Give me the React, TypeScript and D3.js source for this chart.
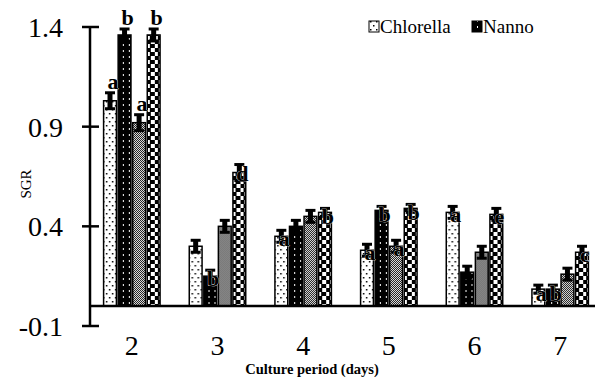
import React from "react";
import * as d3 from "d3";

const days = ["2", "3", "4", "5", "6", "7"];
const seriesNames = ["Chlorella", "Nanno", "Chlorella2", "Nanno2"];
const chlorellaA = [1.03, 0.3, 0.35, 0.28, 0.47, 0.085];
const nannoA = [1.36, 0.15, 0.4, 0.48, 0.17, 0.085];
const chlorellaB = [0.92, 0.4, 0.45, 0.3, 0.27, 0.16];
const nannoB = [1.36, 0.67, 0.47, 0.49, 0.46, 0.27];
const errA = [0.04, 0.03, 0.03, 0.03, 0.03, 0.02];
const errB = [0.03, 0.03, 0.03, 0.02, 0.03, 0.02];
const errC = [0.04, 0.03, 0.03, 0.03, 0.03, 0.03];
const errD = [0.03, 0.04, 0.02, 0.02, 0.03, 0.03];
const lettersA = ["a", "", "a", "a", "a", "a"];
const lettersB = ["b", "b", "", "b", "", "b"];
const lettersC = ["a", "", "", "a", "", ""];
const lettersD = ["b", "d", "b", "b", "e", "c"];
const yTicks = [-0.1, 0.4, 0.9, 1.4];

const values = [chlorellaA, nannoA, chlorellaB, nannoB];
const errors = [errA, errB, errC, errD];
const letters = [lettersA, lettersB, lettersC, lettersD];
const fills = ["url(#pA)", "url(#pB)", "url(#pC)", "url(#pD)"];

export default function App() {
  const W = 595, H = 378;
  const y = d3.scaleLinear().domain([-0.1, 1.4]).range([326, 27]);
  const x = d3.scaleBand<string>().domain(days).range([89, 603]).paddingInner(0.3).paddingOuter(0.15);
  const xi = d3.scaleBand<string>().domain(seriesNames).range([0, x.bandwidth()]).padding(0.12);
  const serif = "Liberation Serif, Times New Roman, serif";
  const y0 = y(0);
  return (
    <svg width={W} height={H} style={{ position: "absolute", left: 0, top: 0, background: "#fff", fontFamily: serif }}>
      <defs>
        <pattern id="pA" width="6" height="8" patternUnits="userSpaceOnUse">
          <rect width="6" height="8" fill="#fff" />
          <rect x="1" y="1" width="1.5" height="1.5" fill="#000" />
          <rect x="4" y="5" width="1.5" height="1.5" fill="#000" />
        </pattern>
        <pattern id="pB" width="6" height="6" patternUnits="userSpaceOnUse">
          <rect width="6" height="6" fill="#000" />
          <rect x="3" y="2" width="1" height="2" fill="#fff" />
        </pattern>
        <pattern id="pC" width="2" height="2" patternUnits="userSpaceOnUse">
          <rect width="2" height="2" fill="#fff" />
          <rect width="1" height="1" fill="#000" />
          <rect x="1" y="1" width="1" height="1" fill="#000" />
        </pattern>
        <pattern id="pD" width="8" height="8" patternUnits="userSpaceOnUse">
          <rect width="8" height="8" fill="#000" />
          <rect x="1" y="0" width="4" height="4" fill="#fff" />
          <rect x="5" y="4" width="3" height="4" fill="#fff" />
        </pattern>
      </defs>

      {days.map((d, i) => (
        <g key={d} transform={`translate(${x(d)},0)`}>
          {seriesNames.map((s, k) => {
            const v = values[k][i];
            const e = errors[k][i];
            const bx = xi(s)!;
            const bw = xi.bandwidth();
            const top = y(v);
            const cx = bx + bw / 2;
            return (
              <g key={s}>
                <rect x={bx} y={Math.min(top, y0)} width={bw} height={Math.abs(y0 - top)} fill={fills[k]} stroke="#000" strokeWidth={1.5} />
                <line x1={cx} x2={cx} y1={y(v + e)} y2={y(v - e)} stroke="#000" strokeWidth={5} />
                <line x1={cx - 5} x2={cx + 5} y1={y(v + e)} y2={y(v + e)} stroke="#000" strokeWidth={3} />
                <line x1={cx - 5} x2={cx + 5} y1={y(v - e)} y2={y(v - e)} stroke="#000" strokeWidth={3} />
              </g>
            );
          })}
        </g>
      ))}
      {days.map((d, i) => (
        <g key={"l" + d} transform={`translate(${x(d)},0)`}>
          {seriesNames.map((s, k) => {
            const v = values[k][i];
            const e = errors[k][i];
            const cx = xi(s)! + xi.bandwidth() / 2;
            return letters[k][i] ? (
              <text key={s} x={cx + 3} y={y(v + e) + (i === 0 ? -4 : 16)} textAnchor="middle" fontSize={22} fontWeight="bold" fill="#000" stroke="#fff" strokeWidth={0.6} paintOrder="stroke">
                {letters[k][i]}
              </text>
            ) : null;
          })}
        </g>
      ))}

      <line x1={89} x2={W} y1={y0} y2={y0} stroke="#000" strokeWidth={2.5} />
      <line x1={90} x2={90} y1={y(1.4)} y2={y(-0.1)} stroke="#000" strokeWidth={2.5} />
      {yTicks.map((t) => (
        <g key={t}>
          <line x1={82} x2={99} y1={y(t)} y2={y(t)} stroke="#000" strokeWidth={2.5} />
          <text x={63} y={y(t) + 10} textAnchor="end" fontSize={28} fill="#000">
            {t.toFixed(1)}
          </text>
        </g>
      ))}
      {days.map((d) => (
        <text key={d} x={x(d)! + x.bandwidth() / 2} y={355} textAnchor="middle" fontSize={28} fill="#000">
          {d}
        </text>
      ))}
      <text x={312} y={374} textAnchor="middle" fontSize={14.5} fontWeight="bold" fill="#000">
        Culture period (days)
      </text>
      <text transform="translate(31,184) rotate(-90)" textAnchor="middle" fontSize={15} fill="#000">
        SGR
      </text>

      <rect x={369} y={21} width={10} height={11} fill="url(#pA)" stroke="#000" strokeWidth={1} />
      <text x={380} y={33} fontSize={19} fill="#000">Chlorella</text>
      <rect x={472} y={21} width={10} height={11} fill="url(#pB)" stroke="#000" strokeWidth={1} />
      <text x={483} y={33} fontSize={19} fill="#000">Nanno</text>
    </svg>
  );
}
